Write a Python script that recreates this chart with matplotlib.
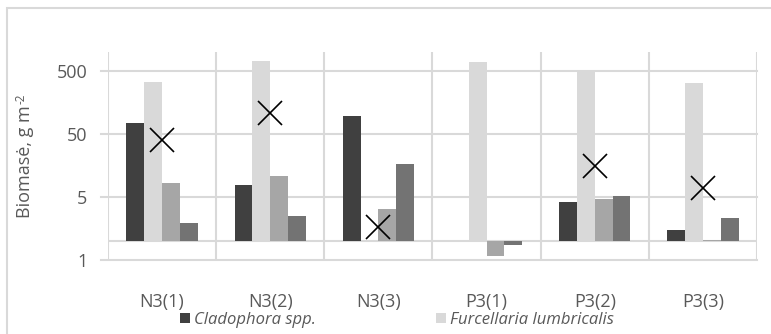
import matplotlib.pyplot as plt
import numpy as np
from matplotlib.patches import Rectangle

plt.rcParams['font.family'] = ['Open Sans', 'DejaVu Sans']

sites = ['N3(1)', 'N3(2)', 'N3(3)', 'P3(1)', 'P3(2)', 'P3(3)']
# biomass, g m-2 (nan = no bar)
cladophora = [75, 7.7, 96, np.nan, 4.1, 1.5]
furcellaria = [335, 720, np.nan, 690, 520, 325]
series3 = [8.2, 10.7, 3.2, 0.58, 4.7, 1.02]
series4 = [1.93, 2.5, 16.9, 0.88, 5.2, 2.3]
total_x = [40, 106, 1.7, np.nan, 15.5, 6.9]

bar_colors = ['#404040', '#d9d9d9', '#a6a6a6', '#737373']
text_color = '#595959'
grid_color = '#d9d9d9'

fig = plt.figure(figsize=(7.71, 3.34), dpi=100)
ax = fig.add_axes([108 / 771, 1 - 260 / 334, 649 / 771, 208 / 334])

x = np.arange(len(sites))
w = 0.165
base = 1.0
bars = []
for i, vals in enumerate([cladophora, furcellaria, series3, series4]):
    vals = np.array(vals, dtype=float)
    b = ax.bar(x + (i - 1.5) * w, vals - base, w, bottom=base, color=bar_colors[i], zorder=3)
    bars.append(b)

ax.plot(x, total_x, linestyle='none', marker='x', markersize=17, markeredgewidth=1.2,
        color='black', zorder=4)

ax.set_yscale('log')
ax.set_ylim(0.5, 1000)
ax.set_xlim(-0.5, len(sites) - 0.5)

# gridlines
for yv in [0.5, 5, 50, 500]:
    ax.axhline(yv, xmin=-0.011, xmax=1, color=grid_color, lw=1.5, clip_on=False, zorder=1)
for xv in np.arange(-0.5, len(sites), 1):
    ax.axvline(xv, color=grid_color, lw=1.5, zorder=1)
ax.axhline(base, color=grid_color, lw=1.5, zorder=2)

for s in ax.spines.values():
    s.set_visible(False)

ax.set_yticks([0.5, 5, 50, 500])
ax.set_yticklabels(['1', '5', '50', '500'])
ax.yaxis.set_minor_locator(plt.NullLocator())
ax.set_xticks(x)
ax.set_xticklabels(sites)
ax.tick_params(axis='y', length=0, pad=15, labelsize=13, labelcolor=text_color)
ax.tick_params(axis='x', length=0, pad=24, labelsize=13, labelcolor=text_color)

# y label with plain hyphen superscript
ylab = fig.text(25 / 771, 1 - 218 / 334, 'Biomasė, g m', rotation=90, ha='center', va='bottom',
                fontsize=13, color=text_color)
fig.canvas.draw()
bb = ylab.get_window_extent()
fig.text(bb.x0 - 1, bb.y1 + 1, '-2', rotation=90, ha='left', va='bottom',
         fontsize=8.5, color=text_color, transform=None)

fig.legend([bars[0], bars[1]], ['Cladophora spp.', 'Furcellaria lumbricalis'],
           loc='center left', bbox_to_anchor=(180 / 771, 1 - 320 / 334), ncol=2,
           frameon=False, handlelength=0.6, handleheight=0.6, handletextpad=0.25,
           columnspacing=7.2, borderaxespad=0, borderpad=0,
           prop={'style': 'italic', 'size': 12}, labelcolor=text_color)

# chart area border
fig.patches.append(Rectangle((7 / 771, -0.1), 1.0, 1.1 - 8 / 334, transform=fig.transFigure,
                             fill=False, edgecolor=grid_color, lw=1.5))

fig.savefig('out.png', dpi=100)
